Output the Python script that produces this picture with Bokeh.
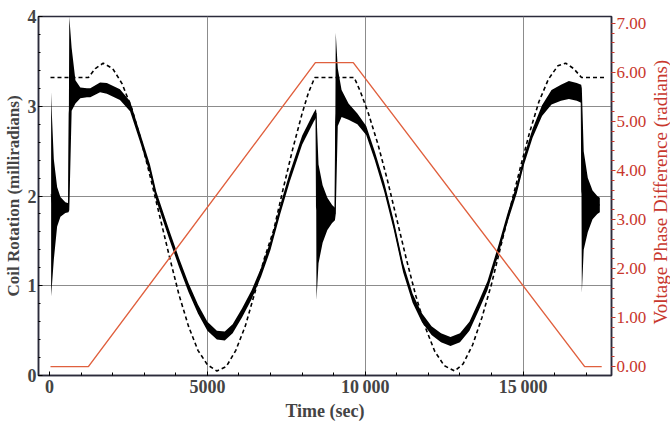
import math
from bokeh.plotting import figure
from bokeh.layouts import row
from bokeh.models import Range1d, LinearAxis, FixedTicker, PrintfTickFormatter, Label
from bokeh.embed import file_html
from bokeh.resources import INLINE

# ---- data ----
# measured coil rotation (noisy band): time, band centre, band half-height
meas_t = [50, 75, 135, 240, 345, 500, 600, 625, 700, 820, 975, 1185, 1290, 1600, 1815,
          2230, 2550, 2860, 3180, 3380, 3800, 4100, 4400, 4700, 5000, 5300, 5550, 5800,
          6100, 6400, 6700, 7000, 7300, 7600, 8000, 8370, 8440, 8455, 8520, 8650, 8800,
          8950, 9040, 9065, 9130, 9250, 9470, 9750, 10030, 10300, 10600, 10900, 11200,
          11500, 11800, 12100, 12400, 12700, 13000, 13300, 13600, 13870, 14200, 14500,
          14800, 15030, 15300, 15600, 15900, 16200, 16450, 16700, 16840, 16860, 16920,
          17050, 17200, 17350, 17430]
meas_mid = [2.02, 1.95, 1.85, 1.88, 1.88, 1.87, 1.87, 2.92, 3.30, 3.16, 3.15, 3.15, 3.15,
            3.21, 3.20, 3.13, 3.00, 2.66, 2.30, 2.00, 1.56, 1.26, 0.98, 0.74, 0.55, 0.45,
            0.44, 0.52, 0.70, 0.90, 1.15, 1.45, 1.84, 2.20, 2.62, 2.88, 2.92, 1.88, 1.80,
            1.80, 1.80, 1.80, 1.80, 2.81, 3.10, 3.03, 2.94, 2.86, 2.73, 2.45, 2.10, 1.68,
            1.20, 0.86, 0.64, 0.50, 0.42, 0.38, 0.42, 0.55, 0.78, 1.00, 1.38, 1.75, 2.08,
            2.40, 2.70, 2.95, 3.10, 3.15, 3.18, 3.16, 3.14, 2.06, 1.95, 1.90, 1.90, 1.90,
            1.90]
meas_spread = [1.14, 0.95, 0.56, 0.22, 0.11, 0.06, 0.05, 1.08, 0.35, 0.13, 0.06, 0.05,
               0.05, 0.055, 0.06, 0.06, 0.055, 0.05, 0.05, 0.05, 0.05, 0.05, 0.05, 0.05,
               0.05, 0.05, 0.05, 0.05, 0.05, 0.05, 0.05, 0.05, 0.05, 0.05, 0.05, 0.05,
               0.05, 1.04, 0.55, 0.32, 0.18, 0.10, 0.07, 1.01, 0.32, 0.15, 0.09, 0.06,
               0.05, 0.05, 0.05, 0.05, 0.05, 0.05, 0.05, 0.05, 0.05, 0.05, 0.05, 0.05,
               0.05, 0.05, 0.05, 0.05, 0.05, 0.05, 0.05, 0.06, 0.08, 0.09, 0.10, 0.10,
               0.10, 1.14, 0.55, 0.30, 0.16, 0.10, 0.08]

# predicted coil rotation (dashed)
pred_t = [30, 1230, 1450, 1700, 2000, 2300, 2600, 2900, 3200, 3500, 3800, 4100, 4400,
          4700, 5000, 5300, 5600, 5900, 6200, 6500, 6800, 7100, 7400, 7700, 8000, 8200,
          8400, 9650, 9850, 10100, 10400, 10700, 11000, 11300, 11600, 11900, 12200, 12500,
          12830, 13100, 13400, 13700, 14000, 14300, 14600, 14900, 15200, 15500, 15800,
          16100, 16350, 16600, 16850, 17650]
pred_val = [3.32, 3.32, 3.42, 3.48, 3.42, 3.25, 2.98, 2.62, 2.20, 1.76, 1.32, 0.90, 0.55,
            0.28, 0.12, 0.05, 0.10, 0.28, 0.55, 0.92, 1.30, 1.62, 2.08, 2.52, 2.92, 3.15,
            3.32, 3.32, 3.16, 2.92, 2.58, 2.18, 1.74, 1.30, 0.89, 0.54, 0.27, 0.11, 0.05,
            0.13, 0.34, 0.65, 1.02, 1.45, 1.88, 2.30, 2.70, 3.05, 3.30, 3.45, 3.48, 3.42,
            3.32, 3.32]

# voltage phase difference (red, right axis)
phase_t = [30, 1230, 8420, 9620, 16950, 17490]
phase_val = [0.0, 0.0, 6.2, 6.2, 0.0, 0.0]

x_ticks = [0, 5000, 10000, 15000]
x_tick_labels = {10000: "10\u2009000", 15000: "15\u2009000"}
y_ticks = [0, 1, 2, 3, 4]
y2_ticks = [0, 1, 2, 3, 4, 5, 6, 7]

# ---- figure ----
FONT = "Liberation Serif"
RED = "#c8372d"
LINE = "#2b2b3b"
H = 423
SIDE_W = 21

p = figure(width=670 - SIDE_W, height=H, output_backend="svg", toolbar_location=None,
           x_range=Range1d(-350, 17800), y_range=Range1d(0, 4),
           min_border_left=38, min_border_right=34, min_border_top=16, min_border_bottom=46)
p.background_fill_color = "white"
p.outline_line_color = LINE
p.outline_line_width = 1.5
p.extra_y_ranges = {"phase": Range1d(-0.18, 7.14)}

lo = [m - s for m, s in zip(meas_mid, meas_spread)]
hi = [m + s for m, s in zip(meas_mid, meas_spread)]
p.varea(x=meas_t, y1=lo, y2=hi, fill_color="black")
p.line(meas_t, meas_mid, line_color="black", line_width=1)
p.line(pred_t, pred_val, line_color="black", line_width=1.6, line_dash="4 3")
p.line(phase_t, phase_val, line_color="#e0603e", line_width=1.4, y_range_name="phase")

# grid
p.xgrid.ticker = FixedTicker(ticks=[5000, 10000, 15000])
p.ygrid.ticker = FixedTicker(ticks=[1, 2, 3])
for g in (p.xgrid, p.ygrid):
    g.grid_line_color = "#8c8c8c"
    g.grid_line_width = 1

# x axis
xa = p.xaxis[0]
xa.ticker = FixedTicker(ticks=x_ticks, minor_ticks=list(range(0, 18000, 1000)))
xa.major_label_overrides = x_tick_labels
xa.axis_label = "Time (sec)"
xa.axis_label_text_font = FONT
xa.axis_label_text_font_style = "bold"
xa.axis_label_text_font_size = "18px"
xa.axis_label_standoff = 1
xa.major_label_text_font = FONT
xa.major_label_text_font_style = "bold"
xa.major_label_text_font_size = "18px"
xa.major_label_standoff = 1
xa.major_tick_in = 4
xa.major_tick_out = 0
xa.minor_tick_in = 3
xa.minor_tick_out = 0
xa.axis_line_color = LINE
xa.axis_line_width = 1.5

# left y axis
ya = p.yaxis[0]
ya.ticker = FixedTicker(ticks=y_ticks, minor_ticks=[i * 0.2 for i in range(21)])
ya.axis_label = "Coil Rotation (milliradians)"
ya.axis_label_text_font = FONT
ya.axis_label_text_font_style = "bold"
ya.axis_label_text_font_size = "17px"
ya.axis_label_standoff = 2
ya.major_label_text_font = FONT
ya.major_label_text_font_style = "bold"
ya.major_label_text_font_size = "18px"
ya.major_label_standoff = 2
ya.major_tick_in = 4
ya.major_tick_out = 0
ya.minor_tick_in = 2
ya.minor_tick_out = 0
ya.axis_line_color = LINE
ya.axis_line_width = 1.5

# right y axis
ra = LinearAxis(y_range_name="phase",
                ticker=FixedTicker(ticks=y2_ticks, minor_ticks=[i * 0.2 for i in range(36)]),
                formatter=PrintfTickFormatter(format="%.2f"))
ra.major_label_text_font = FONT
ra.major_label_text_font_size = "17px"
ra.major_label_text_color = RED
ra.major_label_standoff = 1
ra.major_tick_in = 0
ra.major_tick_out = 4
ra.minor_tick_in = 0
ra.minor_tick_out = 3
ra.major_tick_line_color = RED
ra.minor_tick_line_color = RED
ra.axis_line_color = LINE
ra.axis_line_width = 1.5
p.add_layout(ra, "right")

# narrow strip carrying the right-hand axis title (reads bottom to top)
side = figure(width=SIDE_W, height=H, output_backend="svg", toolbar_location=None,
              x_range=Range1d(0, SIDE_W), y_range=Range1d(0, H),
              x_axis_type=None, y_axis_type=None,
              min_border_left=0, min_border_right=0, min_border_top=0, min_border_bottom=0)
side.outline_line_color = None
side.xgrid.visible = False
side.ygrid.visible = False
side.add_layout(Label(x=SIDE_W / 2, y=H - 207, text="Voltage Phase Difference (radians)",
                      angle=math.pi / 2, text_font=FONT, text_font_style="normal",
                      text_font_size="19px", text_color=RED,
                      text_align="center", text_baseline="middle"))

layout = row(p, side, spacing=0)
open("out.html", "w").write(file_html(layout, INLINE))
